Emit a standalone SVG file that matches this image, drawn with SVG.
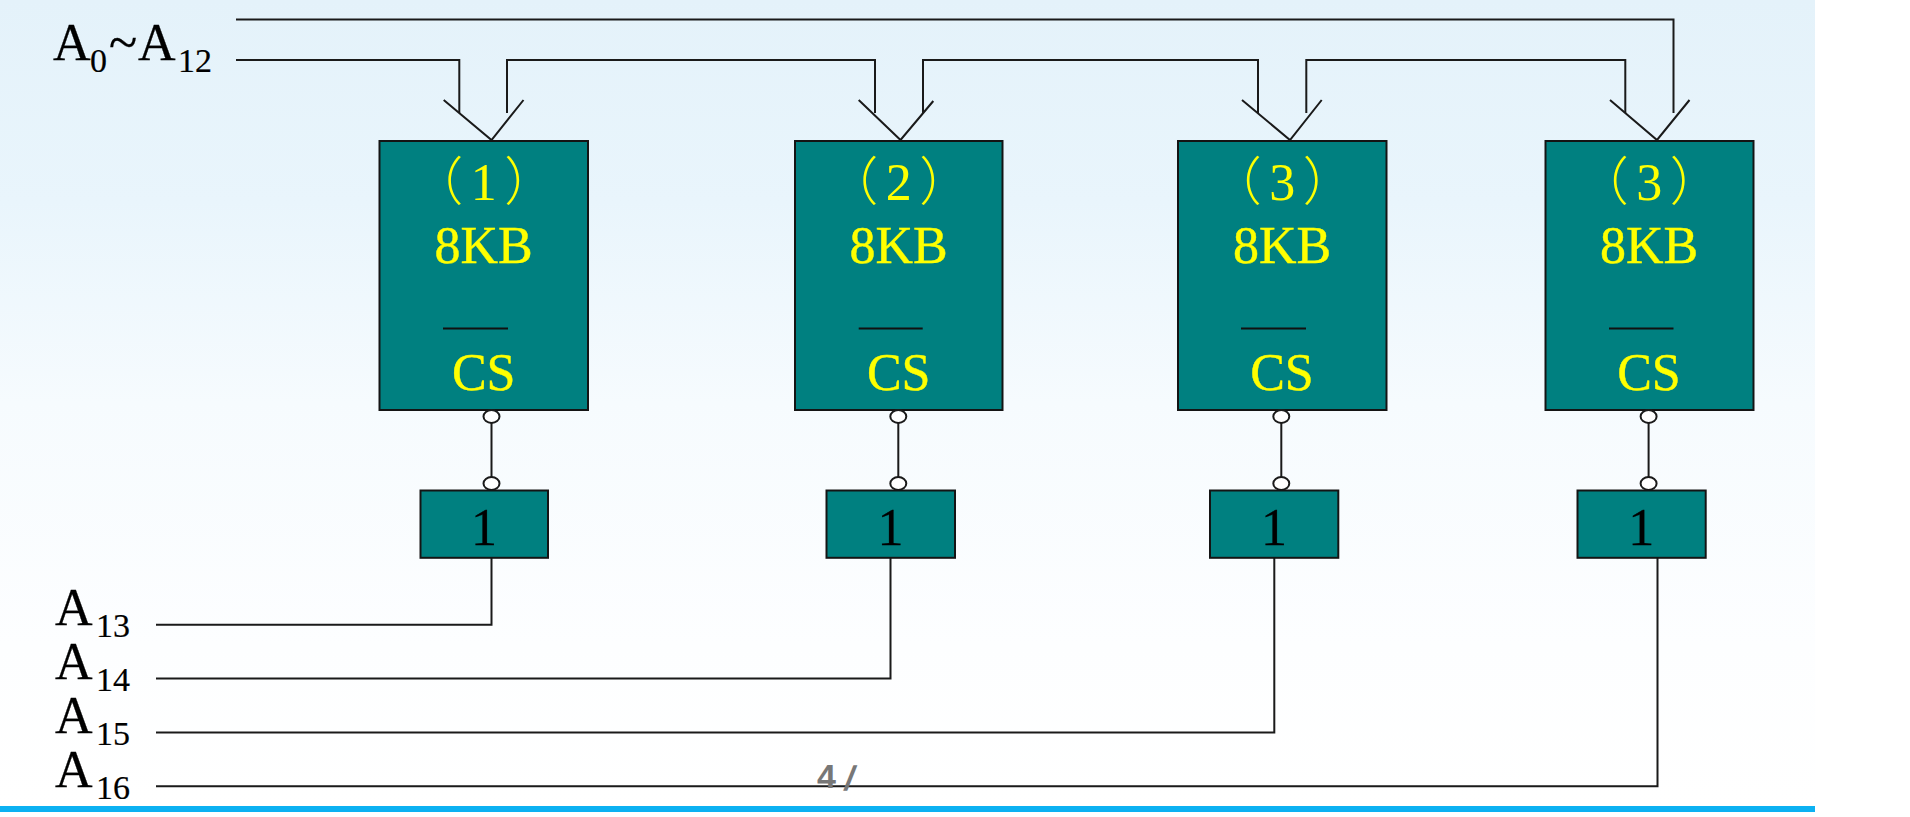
<svg xmlns="http://www.w3.org/2000/svg" width="1910" height="817" viewBox="0 0 1910 817">
<style>
text{font-family:"Liberation Serif","Noto Sans CJK SC",serif}
.box{fill:#008080;stroke:#141414;stroke-width:2}
.big{font-size:52px;fill:#ffff00;stroke:#ffff00;stroke-width:.4;text-anchor:middle}
.par{font-size:52px;font-weight:300;fill:#ffff00;text-anchor:middle;letter-spacing:7.5px}
.one{font-size:52px;fill:#000;text-anchor:middle;stroke:#000;stroke-width:.3}
.bar{stroke:#111;stroke-width:2;fill:none}
.w{stroke:#1a1a1a;stroke-width:2;fill:none;stroke-linejoin:miter}
.n{fill:#fff;stroke:#1a1a1a;stroke-width:2}
.a{font-size:52px;fill:#000;stroke:#000;stroke-width:.3}
.s{font-size:34px;fill:#000;stroke:#000;stroke-width:.2}
.pg{font-family:"Liberation Sans",sans-serif;font-weight:bold;font-size:34px;fill:#777}
</style>
<defs>
<linearGradient id="bg" x1="0" y1="0" x2="0" y2="1">
<stop offset="0" stop-color="#e4f2fa"/>
<stop offset="0.25" stop-color="#e9f5fc"/>
<stop offset="0.5" stop-color="#f6fbfe"/>
<stop offset="0.8" stop-color="#fdfeff"/>
<stop offset="1" stop-color="#ffffff"/>
</linearGradient>
</defs>
<rect width="1910" height="817" fill="#fff"/>
<rect id="background" width="1815" height="806" fill="url(#bg)"/>
<rect id="footer-bar" y="806" width="1815" height="6" fill="#0cb1f2"/>

<g id="connectors">
<path class="w" d="M236 19.5H1673.5V113"/>
<path class="w" d="M236 60H459.3V113"/>
<path class="w" d="M507 113V60H875V113"/>
<path class="w" d="M923 113V60H1258V113"/>
<path class="w" d="M1306.3 113V60H1625.3V113"/>
<path class="w" d="M443.7 100L491.5 140L523.5 100"/>
<path class="w" d="M858.7 100L900.5 140L933.3 101"/>
<path class="w" d="M1242 100L1290 140L1321.7 100"/>
<path class="w" d="M1610 100L1657 140L1689.5 100"/>
<path class="w" d="M491.5 423V477"/>
<path class="w" d="M898.3 423V477"/>
<path class="w" d="M1281.3 423V477"/>
<path class="w" d="M1648.6 423V477"/>
<path class="w" d="M156 624.7H491.5V558"/>
<path class="w" d="M156 678.5H890.5V558"/>
<path class="w" d="M156 732.5H1274.3V558"/>
<path class="w" d="M156 786.3H1657.5V558"/>
</g>

<g id="labels">
<text id="label-a0-a12" class="a" x="53" y="60">A<tspan class="s" x="90" y="71.5">0</tspan><tspan x="109" y="60">~</tspan><tspan x="138" y="60">A</tspan><tspan class="s" x="178" y="71.5">12</tspan></text>
<text id="label-a13" class="a" x="55" y="625">A<tspan class="s" x="96" y="637">13</tspan></text>
<text id="label-a14" class="a" x="55" y="679">A<tspan class="s" x="96" y="691">14</tspan></text>
<text id="label-a15" class="a" x="55" y="733">A<tspan class="s" x="96" y="745">15</tspan></text>
<text id="label-a16" class="a" x="55" y="787">A<tspan class="s" x="96" y="799">16</tspan></text>
</g>

<g id="chip-1">
<rect class="box" x="379.5" y="141" width="208.5" height="269"/>
<text class="par" x="487.5" y="200">（1）</text>
<text class="big" x="483.7" y="262.5">8KB</text>
<path class="bar" d="M443 328.5H508"/>
<text class="big" x="483.7" y="389.5">CS</text>
<ellipse class="n" cx="491.5" cy="416.5" rx="8" ry="6.5"/>
</g>
<g id="chip-2">
<rect class="box" x="795" y="141" width="207.5" height="269"/>
<text class="par" x="902.5" y="200">（2）</text>
<text class="big" x="898.7" y="262.5">8KB</text>
<path class="bar" d="M858.7 328.5H922.7"/>
<text class="big" x="898.7" y="389.5">CS</text>
<ellipse class="n" cx="898.3" cy="416.5" rx="8" ry="6.5"/>
</g>
<g id="chip-3">
<rect class="box" x="1178" y="141" width="208.5" height="269"/>
<text class="par" x="1286" y="200">（3）</text>
<text class="big" x="1282" y="262.5">8KB</text>
<path class="bar" d="M1241 328.5H1306"/>
<text class="big" x="1282" y="389.5">CS</text>
<ellipse class="n" cx="1281.3" cy="416.5" rx="8" ry="6.5"/>
</g>
<g id="chip-4">
<rect class="box" x="1545.5" y="141" width="208" height="269"/>
<text class="par" x="1653" y="200">（3）</text>
<text class="big" x="1649" y="262.5">8KB</text>
<path class="bar" d="M1609 328.5H1673.5"/>
<text class="big" x="1649" y="389.5">CS</text>
<ellipse class="n" cx="1648.6" cy="416.5" rx="8" ry="6.5"/>
</g>

<g id="gate-1">
<ellipse class="n" cx="491.5" cy="483.5" rx="8" ry="6.5"/>
<rect class="box" x="420.5" y="490.5" width="127.5" height="67.3"/>
<text class="one" x="484" y="544.5">1</text>
</g>
<g id="gate-2">
<ellipse class="n" cx="898.3" cy="483.5" rx="8" ry="6.5"/>
<rect class="box" x="826.5" y="490.5" width="128.5" height="67.3"/>
<text class="one" x="890.5" y="544.5">1</text>
</g>
<g id="gate-3">
<ellipse class="n" cx="1281.3" cy="483.5" rx="8" ry="6.5"/>
<rect class="box" x="1210" y="490.5" width="128.3" height="67.3"/>
<text class="one" x="1274" y="544.5">1</text>
</g>
<g id="gate-4">
<ellipse class="n" cx="1648.6" cy="483.5" rx="8" ry="6.5"/>
<rect class="box" x="1577.5" y="490.5" width="128.2" height="67.3"/>
<text class="one" x="1641.3" y="544.5">1</text>
</g>

<g id="page-number">
<text class="pg" x="817" y="788">4</text>
<text class="pg" transform="translate(843 790) skewX(-12)">/</text>
</g>
</svg>
